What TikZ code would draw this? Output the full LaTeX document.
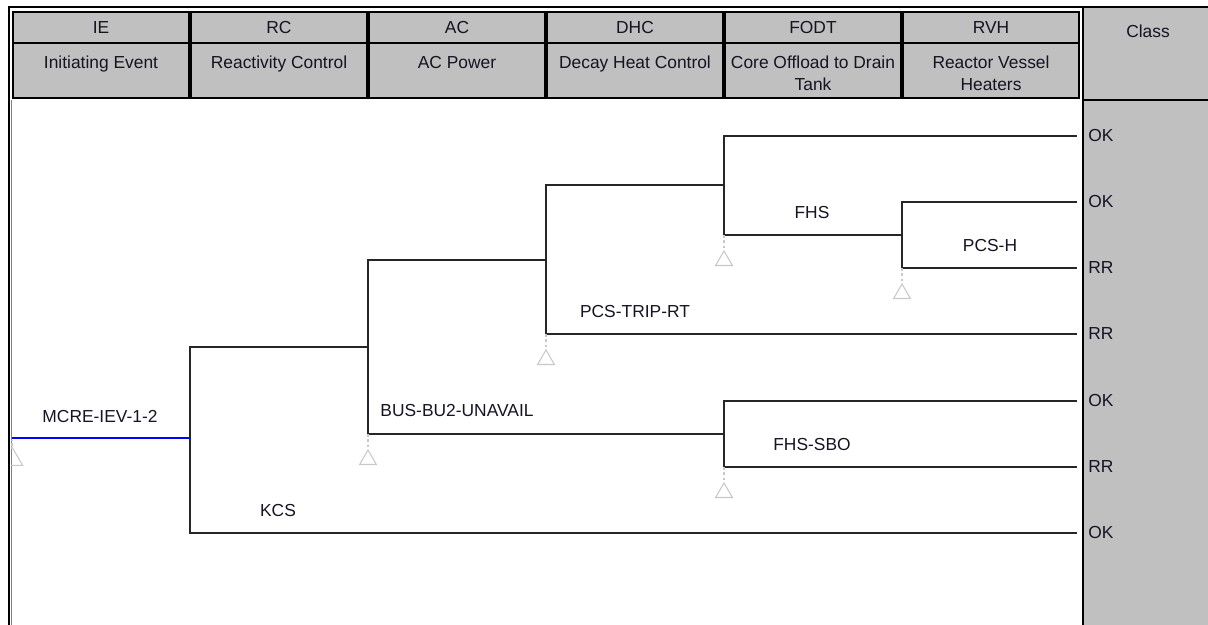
\documentclass[tikz,border=0pt]{standalone}
\usepackage{fontspec}
\setmainfont{Liberation Sans}
\usetikzlibrary{positioning, shapes.geometric}

\definecolor{hdrgray}{RGB}{192,192,192}
\definecolor{trigray}{RGB}{200,200,200}
\definecolor{txtcol}{RGB}{20,20,35}

\begin{document}
\begin{tikzpicture}[
    x=0.02cm, y=-0.02cm,
    font=\fontsize{9.9}{12.5}\selectfont,
    hdrcell/.style={draw=black, line width=0.9pt, fill=hdrgray},
    branch/.style={draw=black!85, line width=0.9pt},
    lbl/.style={inner sep=1pt, text=txtcol},
    cls/.style={anchor=west, inner sep=0pt, text=txtcol},
    tri/.style={draw=trigray, regular polygon, regular polygon sides=3,
                minimum size=11pt, inner sep=0pt, line width=0.6pt},
    stub/.style={draw=trigray, dash pattern=on 1.5pt off 1.5pt, line width=0.6pt}
  ]
  \useasboundingbox (0,0) rectangle (1208,625);

  % class column and frame
  \fill[hdrgray] (1083,8) rectangle (1208,625);
  \draw[line width=1pt] (1083,8) -- (1083,625);
  \draw[line width=0.6pt] (1083,100) -- (1208,100);
  \node[lbl] (class) at (1148,31) {Class};
  \draw[line width=1.3pt] (9,625) -- (9,7) -- (1208,7);
  \draw[gray, line width=0.6pt] (11.5,100) -- (11.5,625);

  % header
  \foreach \x/\id/\code/\desc in {12/ie/IE/{Initiating Event},
      190/rc/RC/{Reactivity Control}, 368/ac/AC/{AC Power},
      546/dhc/DHC/{Decay Heat Control},
      724/fodt/FODT/{Core Offload to Drain\\Tank},
      902/rvh/RVH/{Reactor Vessel\\Heaters}} {
    \draw[hdrcell] (\x+1,12) rectangle (\x+177,43);
    \draw[hdrcell] (\x+1,43) rectangle (\x+177,98);
    \node[lbl] (\id) at (\x+89,28) {\code};
    \node[lbl, anchor=north, align=center] (\id-desc) at (\x+89,54) {\desc};
  }

  % end states
  \node[cls] (e1) at (1088,136) {OK};
  \node[cls] (e2) at (1088,202) {OK};
  \node[cls] (e3) at (1088,268) {RR};
  \node[cls] (e4) at (1088,334) {RR};
  \node[cls] (e5) at (1088,401) {OK};
  \node[cls] (e6) at (1088,467) {RR};
  \node[cls] (e7) at (1088,533) {OK};

  % branch points
  \coordinate (s)  at (12,438);
  \coordinate (n1) at (190,438);
  \coordinate (n2) at (368,347);
  \coordinate (n3) at (546,260);
  \coordinate (n4) at (724,185);
  \coordinate (n5) at (902,235);
  \coordinate (n6) at (724,434);

  \draw[branch, draw=blue, line width=1.2pt] (s) -- (n1);
  \draw[branch] (n2) -| (n1) |- ([xshift=-6.5pt]e7.west);
  \draw[branch] (n3) -| (n2) |- (n6);
  \draw[branch] (n4) -| (n3) |- ([xshift=-6.5pt]e4.west);
  \draw[branch] ([xshift=-6.5pt]e1.west) -| (n4) |- (n5);
  \draw[branch] ([xshift=-6.5pt]e2.west) -| (n5) |- ([xshift=-6.5pt]e3.west);
  \draw[branch] ([xshift=-6.5pt]e5.west) -| (n6) |- ([xshift=-6.5pt]e6.west);

  % branch labels
  \node[lbl] (mcre) at (100,417) {MCRE-IEV-1-2};
  \node[lbl] (kcs) at (278,511) {KCS};
  \node[lbl] (bus) at (457,411) {BUS-BU2-UNAVAIL};
  \node[lbl] (trip) at (635,312) {PCS-TRIP-RT};
  \node[lbl] (fhs) at (812,213) {FHS};
  \node[lbl] (pcsh) at (990,246) {PCS-H};
  \node[lbl] (fhssbo) at (812,445) {FHS-SBO};

  % transfer triangles
  \coordinate (b2) at (n2 |- n6);
  \coordinate (b3) at (n3 |- e4);
  \coordinate (b4) at (n4 |- n5);
  \coordinate (b5) at (n5 |- e3);
  \coordinate (b6) at (n6 |- e6);
  \foreach \b in {2,...,6} {
    \node[tri, below=8.5pt of b\b] (t\b) {};
    \draw[stub] (b\b) -- (t\b);
  }
  \begin{scope}
    \clip (11,440) rectangle (60,490);
    \node[tri, minimum size=14pt, below=4.5pt of s] (t0) {};
    \draw[stub] (s) -- (t0);
  \end{scope}
\end{tikzpicture}
\end{document}
